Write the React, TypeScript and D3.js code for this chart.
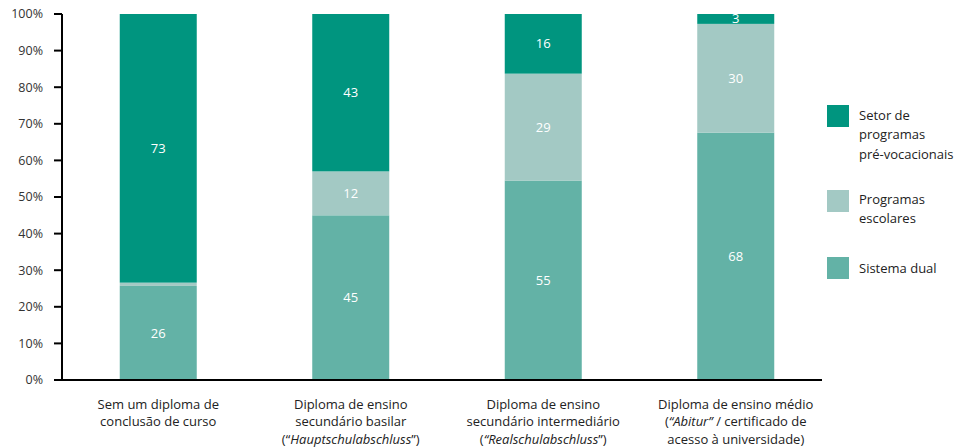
import React from "react";
import * as d3 from "d3";

const categories = [
  ["Sem um diploma de", "conclusão de curso"],
  ["Diploma de ensino", "secundário basilar", "(“|Hauptschulabschluss|”)"],
  ["Diploma de ensino", "secundário intermediário", "(|“Realschulabschluss|”)"],
  ["Diploma de ensino médio", "(|“Abitur”| / certificado de", "acesso à universidade)"],
];
const sistemaDual = [25.7, 45, 54.5, 67.6];
const programasEscolares = [0.9, 12, 29.2, 29.7];
const setorPreVocacional = [73.4, 43, 16.3, 2.7];
const yTicks = [0, 10, 20, 30, 40, 50, 60, 70, 80, 90, 100];

const series = [
  { key: "dual", values: sistemaDual, color: "#63b2a6", label: ["Sistema dual"] },
  { key: "escolar", values: programasEscolares, color: "#a3c9c4", label: ["Programas", "escolares"] },
  { key: "setor", values: setorPreVocacional, color: "#00957f", label: ["Setor de", "programas", "pré-vocacionais"] },
];

const FONT = "'Open Sans', 'Noto Sans', sans-serif";

export default function App() {
  const W = 960, H = 448;
  const x0 = 62, x1 = 832;
  const x = d3.scaleBand<number>().domain(d3.range(categories.length)).range([x0, x1]).paddingInner(0.6).paddingOuter(0.3);
  const y = d3.scaleLinear().domain([0, 100]).range([380, 14]);

  const rows = categories.map((_, i) => {
    let acc = 0;
    return series.map((s) => {
      const v = s.values[i];
      const seg = { y0: acc, y1: acc + v, v, color: s.color, key: s.key };
      acc += v;
      return seg;
    });
  });

  const legendY = [268, 199, 115];
  const legendSq = [257, 190, 105];

  const renderLabel = (line: string) => {
    const parts = line.split("|");
    return parts.map((p, k) => (
      <tspan key={k} fontStyle={k % 2 === 1 ? "italic" : "normal"}>{p}</tspan>
    ));
  };

  return (
    <svg width={W} height={H} style={{ position: "absolute", left: 0, top: 0, fontFamily: FONT }}>
      <rect width={W} height={H} fill="#fff" />
      {rows.map((segs, i) =>
        segs.map((s) => (
          <g key={`${i}-${s.key}`}>
            <rect x={x(i)} width={x.bandwidth()} y={y(s.y1)} height={y(s.y0) - y(s.y1)} fill={s.color} />
            {s.v >= 2 && (
              <text
                x={(x(i) as number) + x.bandwidth() / 2}
                y={(y(s.y0) + y(s.y1)) / 2}
                dy="0.35em"
                textAnchor="middle"
                fill="#fff"
                fontSize={13}
              >
                {Math.round(s.v)}
              </text>
            )}
          </g>
        ))
      )}
      {/* y axis */}
      <line x1={x0} x2={x0} y1={y(100)} y2={y(0)} stroke="#000" strokeWidth={2} />
      {yTicks.map((t) => (
        <g key={t}>
          <line x1={54} x2={x0} y1={y(t)} y2={y(t)} stroke="#000" strokeWidth={2} />
          <text x={43} y={y(t)} dy="0.35em" textAnchor="end" fontSize={12.5} fill="#333">
            {t}%
          </text>
        </g>
      ))}
      <line x1={x0 - 1} x2={822} y1={y(0)} y2={y(0)} stroke="#000" strokeWidth={2} />
      {/* category labels */}
      {categories.map((lines, i) => (
        <text key={i} textAnchor="middle" fontSize={13} fill="#222">
          {lines.map((l, k) => (
            <tspan key={k} x={(x(i) as number) + x.bandwidth() / 2} y={404 + k * 17.5} dy="0.35em">
              {renderLabel(l)}
            </tspan>
          ))}
        </text>
      ))}
      {/* legend */}
      {series.map((s, i) => (
        <g key={s.key}>
          <rect x={827} y={legendSq[i]} width={22} height={22} fill={s.color} />
          <text fontSize={13} fill="#222">
            {s.label.map((l, k) => (
              <tspan key={k} x={859} y={legendY[i] + k * 19.5} dy="0.35em">{l}</tspan>
            ))}
          </text>
        </g>
      ))}
    </svg>
  );
}
